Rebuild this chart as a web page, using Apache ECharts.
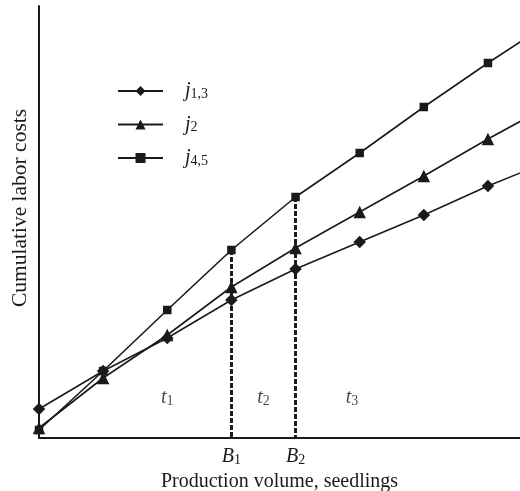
<!DOCTYPE html>
<html>
<head>
<meta charset="utf-8">
<script src="https://cdn.jsdelivr.net/npm/echarts@6/dist/echarts.min.js"></script>
<style>html,body{margin:0;padding:0;background:#fff}#c{width:520px;height:491px}</style>
</head>
<body>
<div id="c"></div>
<script>
// x positions (production volume steps); last point lies beyond the visible frame
const xs = [0, 1, 2, 3, 4, 5, 6, 7, 8];
const j13 = [29, 67, 100, 138, 169, 196, 223, 252, 278];
const j2  = [10, 60, 103, 151, 190, 226, 262, 299, 334];
const j45 = [8, 67, 128, 188, 241, 285, 331, 375, 417];
const seriesNames = ['j13', 'j2', 'j45'];
const legendLabels = {j13: '1,3', j2: '2', j45: '4,5'};
const boundaryX = [3, 4];          // B1, B2
const boundaryLabels = {3: '1', 4: '2'};
const tLabels = [['1', 2, 40], ['2', 3.5, 40], ['3', 4.88, 40]];

const FONT = 'Liberation Serif, Times New Roman, serif';
const INK = '#1a1a1a';
const pairs = arr => xs.map((x, i) => [x, arr[i]]);

const subRich = {
  i: {fontFamily: FONT, fontStyle: 'italic', fontSize: 20, color: INK, lineHeight: 22},
  s: {fontFamily: FONT, fontSize: 14, color: INK, lineHeight: 16, padding: [6, 0, 0, 0]}
};

const mkLine = (name, data, symbol, size) => ({
  name, type: 'line', data: pairs(data), symbol, symbolSize: size,
  lineStyle: {color: INK, width: 1.6}, itemStyle: {color: INK},
  clip: true, z: 3
});

const s45 = mkLine('j45', j45, 'rect', 8.5);
s45.markLine = {
  silent: true, symbol: 'none',
  lineStyle: {color: INK, width: 3, type: [5, 2]},
  label: {show: false},
  data: boundaryX.map(b => [{coord: [b, j45[xs.indexOf(b)]]}, {coord: [b, 0]}])
};

const chart = echarts.init(document.getElementById('c'));
chart.setOption({
  animation: false,
  grid: {left: 39, right: 0, top: 6, bottom: 53, containLabel: false, outerBoundsMode: 'none'},
  xAxis: {
    type: 'value', min: 0, max: 7.5, interval: 1,
    axisLine: {lineStyle: {color: INK, width: 2}},
    axisTick: {show: false}, splitLine: {show: false},
    axisLabel: {
      margin: 8, showMaxLabel: false,
      formatter: v => boundaryLabels[v] ? '{i|B}{s|' + boundaryLabels[v] + '}' : '',
      rich: subRich
    },
    name: 'Production volume, seedlings', nameLocation: 'middle', nameGap: 28,
    nameTextStyle: {fontFamily: FONT, fontSize: 20, color: INK}
  },
  yAxis: {
    type: 'value', min: 0, max: 432,
    axisLine: {show: true, lineStyle: {color: INK, width: 2}},
    axisTick: {show: false}, splitLine: {show: false}, axisLabel: {show: false},
    name: 'Cumulative labor costs', nameLocation: 'middle', nameGap: 8,
    nameTextStyle: {fontFamily: FONT, fontSize: 21.5, color: INK, padding: [0, 0, 0, 28]}
  },
  legend: {
    data: seriesNames, orient: 'vertical', left: 112, top: 76,
    itemWidth: 45, itemHeight: 12.5, itemGap: 13.5,
    formatter: n => '{i|j}{s|' + legendLabels[n] + '}',
    textStyle: {rich: subRich, padding: [0, 0, 0, 17]},
    selectedMode: false
  },
  series: [
    mkLine('j13', j13, 'diamond', 12.5),
    mkLine('j2', j2, 'triangle', 12.5),
    s45,
    {
      type: 'scatter', symbolSize: 0, silent: true,
      data: tLabels.map(t => ({value: [t[1], t[2]], sub: t[0]})),
      label: {
        show: true, position: 'inside',
        formatter: p => '{i|t}{s|' + p.data.sub + '}', rich: subRich
      }
    }
  ]
});
</script>
</body>
</html>
